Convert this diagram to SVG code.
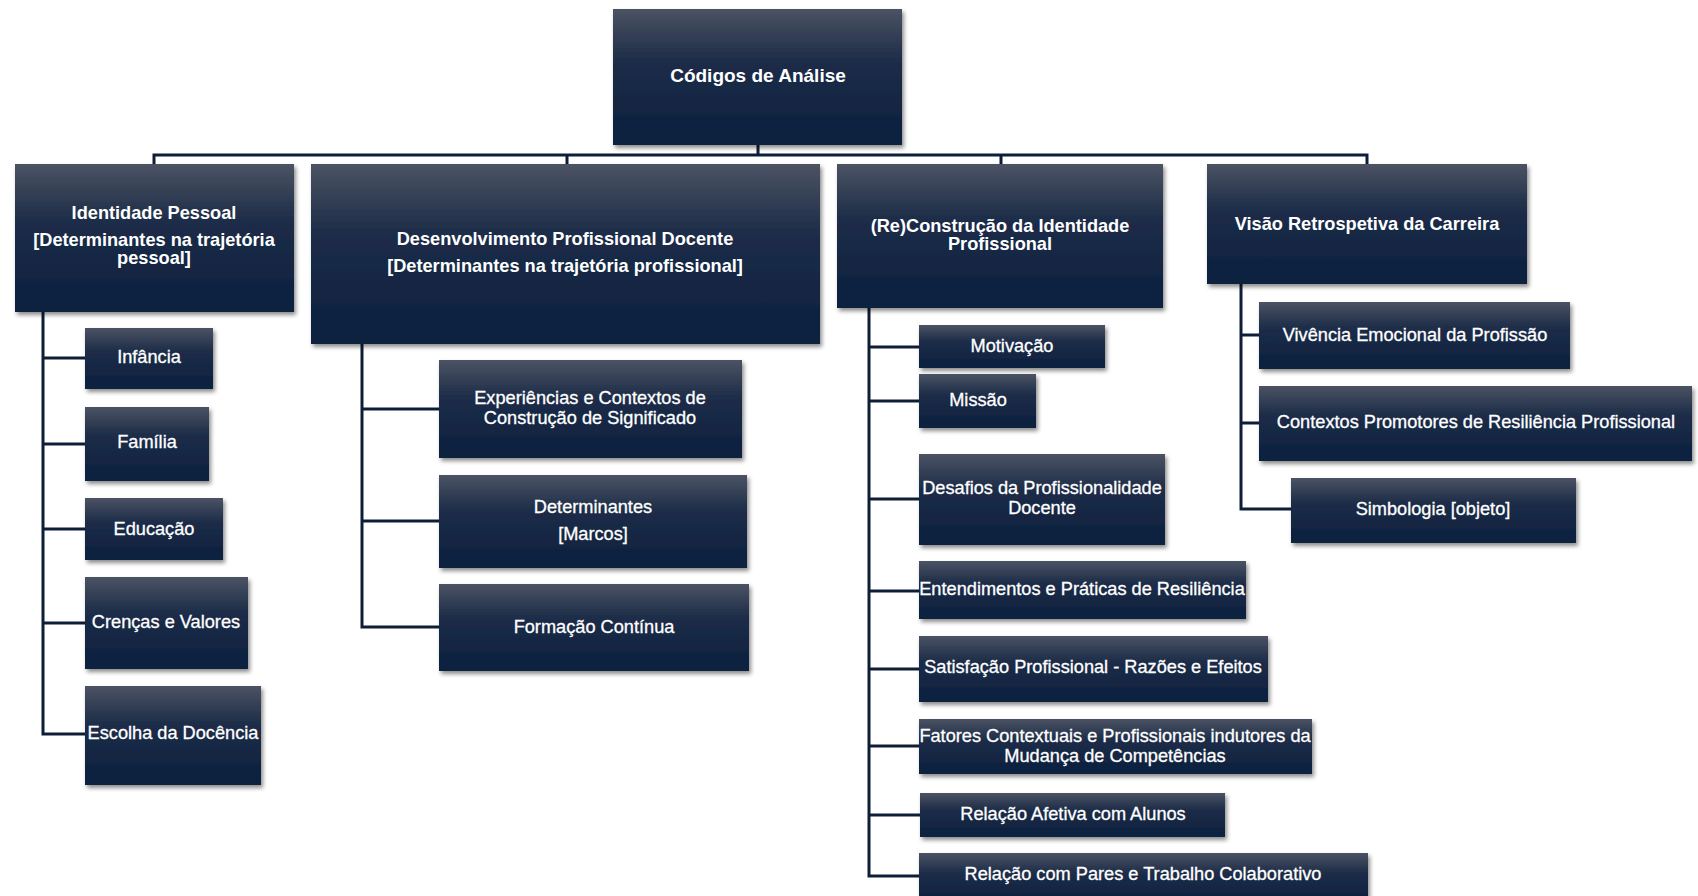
<svg xmlns="http://www.w3.org/2000/svg" width="1698" height="896" viewBox="0 0 1698 896">
<defs>
<linearGradient id="g" x1="0" y1="0" x2="0" y2="1">
<stop offset="0" stop-color="#4b5363"/>
<stop offset="0.38" stop-color="#1d2d48"/>
<stop offset="1" stop-color="#0b203e"/>
</linearGradient>
<filter id="sh" x="-10%" y="-10%" width="125%" height="130%">
<feDropShadow dx="2" dy="3" stdDeviation="2.2" flood-color="#000" flood-opacity="0.45"/>
</filter>
</defs>
<style>
.box{fill:url(#g);filter:url(#sh)}
.conn{stroke:#0e1e38;stroke-width:3;fill:none}
text{font-family:"Liberation Sans",Arial,sans-serif;fill:#ffffff;text-anchor:middle}
.t0{font-size:19px;font-weight:bold}
.t1{font-size:18.2px;font-weight:bold}
.t2{font-size:18.2px;stroke:#ffffff;stroke-width:0.3}
</style>
<rect width="1698" height="896" fill="#ffffff"/>
<g id="connectors">
<path class="conn" d="M758 145V155M154 164V155H1367V164M567 155V164M1001 155V164"/>
<path class="conn" d="M43 312V734H85M43 358H85M43 444H85M43 529H85M43 623H85"/>
<path class="conn" d="M362 344V627H439M362 409H439M362 521H439"/>
<path class="conn" d="M869 308V876H919M869 347H919M869 401H919M869 499H919M869 591H919M869 669H919M869 746H919M869 815H920"/>
<path class="conn" d="M1241 284V509H1291M1241 335H1259M1241 423H1259"/>
</g>
<g id="root"><rect class="box" x="613" y="9" width="289" height="136"/><text class="t0" x="758" y="82">Códigos de Análise</text></g>
<g id="identidade"><rect class="box" x="15" y="164" width="279" height="148"/><text class="t1" x="154" y="219">Identidade Pessoal</text><text class="t1" x="154" y="246">[Determinantes na trajetória</text><text class="t1" x="154" y="264">pessoal]</text></g>
<g id="desenvolvimento"><rect class="box" x="311" y="164" width="509" height="180"/><text class="t1" x="565" y="245">Desenvolvimento Profissional Docente</text><text class="t1" x="565" y="272">[Determinantes na trajetória profissional]</text></g>
<g id="reconstrucao"><rect class="box" x="837" y="164" width="326" height="144"/><text class="t1" x="1000" y="232">(Re)Construção da Identidade</text><text class="t1" x="1000" y="250">Profissional</text></g>
<g id="visao"><rect class="box" x="1207" y="164" width="320" height="120"/><text class="t1" x="1367" y="230">Visão Retrospetiva da Carreira</text></g>
<g id="infancia"><rect class="box" x="85" y="328" width="128" height="61"/><text class="t2" x="149" y="363">Infância</text></g>
<g id="familia"><rect class="box" x="85" y="407" width="124" height="74"/><text class="t2" x="147" y="448">Família</text></g>
<g id="educacao"><rect class="box" x="85" y="498" width="138" height="62"/><text class="t2" x="154" y="535">Educação</text></g>
<g id="crencas"><rect class="box" x="85" y="577" width="163" height="92"/><text class="t2" x="166" y="628">Crenças e Valores</text></g>
<g id="escolha"><rect class="box" x="85" y="686" width="176" height="99"/><text class="t2" x="173" y="739">Escolha da Docência</text></g>
<g id="experiencias"><rect class="box" x="439" y="360" width="303" height="98"/><text class="t2" x="590" y="404">Experiências e Contextos de</text><text class="t2" x="590" y="424">Construção de Significado</text></g>
<g id="determinantes"><rect class="box" x="439" y="475" width="308" height="93"/><text class="t2" x="593" y="513">Determinantes</text><text class="t2" x="593" y="540">[Marcos]</text></g>
<g id="formacao"><rect class="box" x="439" y="584" width="310" height="87"/><text class="t2" x="594" y="633">Formação Contínua</text></g>
<g id="motivacao"><rect class="box" x="919" y="325" width="186" height="43"/><text class="t2" x="1012" y="352">Motivação</text></g>
<g id="missao"><rect class="box" x="919" y="374" width="117" height="54"/><text class="t2" x="978" y="406">Missão</text></g>
<g id="desafios"><rect class="box" x="919" y="454" width="246" height="91"/><text class="t2" x="1042" y="494">Desafios da Profissionalidade</text><text class="t2" x="1042" y="514">Docente</text></g>
<g id="entendimentos"><rect class="box" x="919" y="561" width="327" height="58"/><text class="t2" x="1082" y="595">Entendimentos e Práticas de Resiliência</text></g>
<g id="satisfacao"><rect class="box" x="919" y="636" width="349" height="66"/><text class="t2" x="1093" y="673">Satisfação Profissional - Razões e Efeitos</text></g>
<g id="fatores"><rect class="box" x="919" y="719" width="393" height="55"/><text class="t2" x="1115" y="742">Fatores Contextuais e Profissionais indutores da</text><text class="t2" x="1115" y="762">Mudança de Competências</text></g>
<g id="afetiva"><rect class="box" x="920" y="793" width="305" height="44"/><text class="t2" x="1073" y="820">Relação Afetiva com Alunos</text></g>
<g id="pares"><rect class="box" x="919" y="853" width="449" height="52"/><text class="t2" x="1143" y="880">Relação com Pares e Trabalho Colaborativo</text></g>
<g id="vivencia"><rect class="box" x="1259" y="302" width="311" height="67"/><text class="t2" x="1415" y="341">Vivência Emocional da Profissão</text></g>
<g id="contextos"><rect class="box" x="1259" y="386" width="433" height="75"/><text class="t2" x="1476" y="428">Contextos Promotores de Resiliência Profissional</text></g>
<g id="simbologia"><rect class="box" x="1291" y="478" width="285" height="65"/><text class="t2" x="1433" y="515">Simbologia [objeto]</text></g>
</svg>
